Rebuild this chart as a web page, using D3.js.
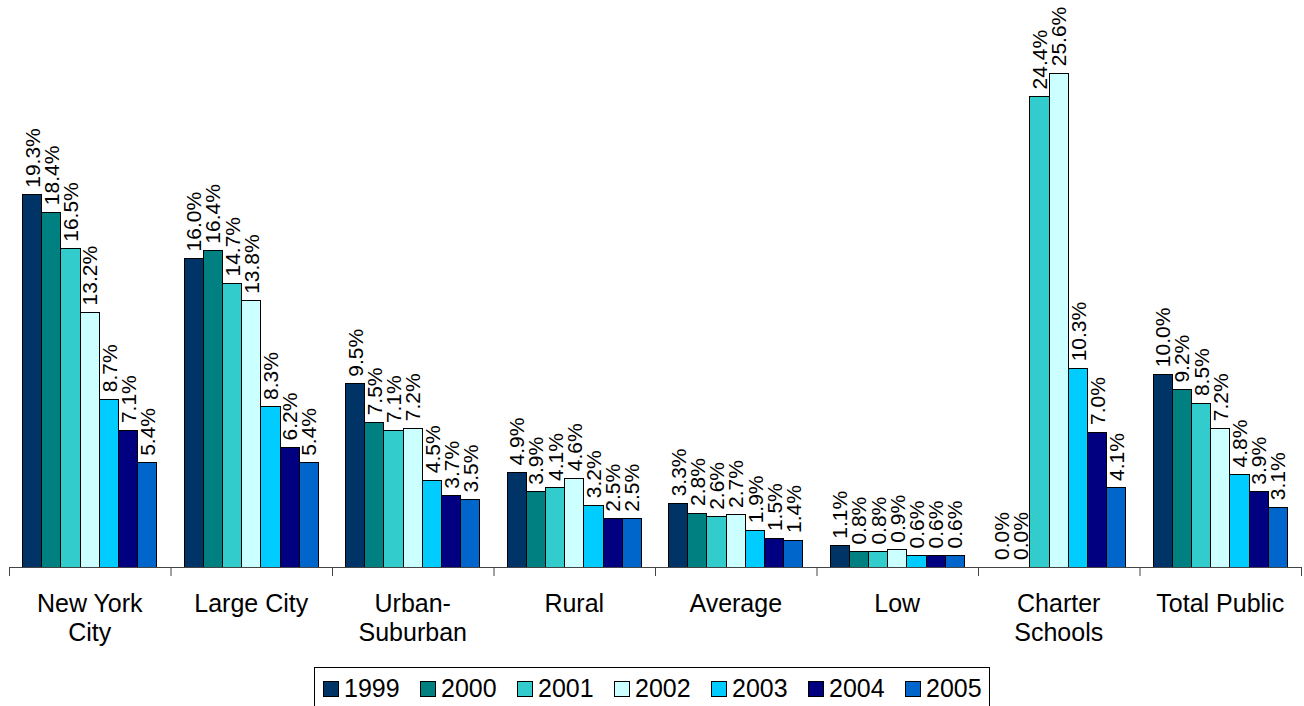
<!DOCTYPE html>
<html>
<head>
<meta charset="utf-8">
<script src="https://cdn.jsdelivr.net/npm/d3@7"></script>
<style>
	body { margin: 0; background: #fff; }
	svg { display: block; font-family: "Liberation Sans", Arial, sans-serif; }
</style>
</head>
<body>
<div id="chart"></div>
<script>
// categories (tick labels split over lines like the original)
const categories = ["New York City", "Large City", "Urban-Suburban", "Rural", "Average", "Low", "Charter Schools", "Total Public"];
const tickLines = [["New York", "City"], ["Large City"], ["Urban-", "Suburban"], ["Rural"], ["Average"], ["Low"], ["Charter", "Schools"], ["Total Public"]];

const years = ["1999", "2000", "2001", "2002", "2003", "2004", "2005"];
const yearColors = ["#003366", "#008080", "#33CCCC", "#CCFFFF", "#00CCFF", "#000080", "#0066CC"];

// percent per category, one array per year
const v1999 = [19.3, 16.0, 9.5, 4.9, 3.3, 1.1, 0.0, 10.0];
const v2000 = [18.4, 16.4, 7.5, 3.9, 2.8, 0.8, 0.0, 9.2];
const v2001 = [16.5, 14.7, 7.1, 4.1, 2.6, 0.8, 24.4, 8.5];
const v2002 = [13.2, 13.8, 7.2, 4.6, 2.7, 0.9, 25.6, 7.2];
const v2003 = [8.7, 8.3, 4.5, 3.2, 1.9, 0.6, 10.3, 4.8];
const v2004 = [7.1, 6.2, 3.7, 2.5, 1.5, 0.6, 7.0, 3.9];
const v2005 = [5.4, 5.4, 3.5, 2.5, 1.4, 0.6, 4.1, 3.1];
const series = [v1999, v2000, v2001, v2002, v2003, v2004, v2005];

const width = 1304, height = 706;
const plotLeft = 9, plotRight = 1301, baseY = 567;

const svg = d3.select("#chart").append("svg")
	.attr("width", width)
	.attr("height", height);

//Scales
const x0 = d3.scaleBand().domain(categories).range([plotLeft, plotRight]);
const pad = x0.bandwidth() * 0.084;
const x1 = d3.scaleBand().domain(years).range([pad, x0.bandwidth() - pad]);
const y = d3.scaleLinear().domain([0, 29.4]).range([baseY, 0]);

// flatten to one record per bar
const bars = [];
categories.forEach(function(c, i) {
	years.forEach(function(yr, j) {
		bars.push({cat: c, year: yr, value: series[j][i], color: yearColors[j]});
	});
});

//Bars
svg.append("g").selectAll("rect")
	.data(bars.filter(function(d) { return d.value > 0; }))
	.enter().append("rect")
	.attr("x", function(d) { return x0(d.cat) + x1(d.year); })
	.attr("y", function(d) { return y(d.value); })
	.attr("width", x1.bandwidth())
	.attr("height", function(d) { return baseY - y(d.value); })
	.attr("fill", function(d) { return d.color; })
	.attr("stroke", "#000")
	.attr("stroke-width", 1)
	.attr("shape-rendering", "crispEdges");

//Value labels, rotated
svg.append("g").selectAll("text")
	.data(bars)
	.enter().append("text")
	.attr("transform", function(d) {
		const cx = x0(d.cat) + x1(d.year) + x1.bandwidth() / 2;
		return "translate(" + cx + "," + (y(d.value) - 7) + ") rotate(-90)";
	})
	.attr("dy", "0.36em")
	.attr("font-size", "21px")
	.attr("fill", "#000")
	.text(function(d) { return d.value.toFixed(1) + "%"; });

//X axis with ticks on category boundaries
const xi = d3.scaleLinear().domain([0, categories.length]).range([plotLeft, plotRight]);
const axis = svg.append("g")
	.attr("transform", "translate(0," + baseY + ")")
	.call(d3.axisBottom(xi).tickValues(d3.range(categories.length + 1)).tickFormat("").tickSize(9).tickSizeOuter(0));
axis.select(".domain").attr("stroke", "#444");
axis.selectAll(".tick line").attr("stroke", "#444");

//Category labels
const catG = svg.append("g").selectAll("text")
	.data(categories)
	.enter().append("text")
	.attr("x", function(d) { return x0(d) + x0.bandwidth() / 2; })
	.attr("y", 612)
	.attr("text-anchor", "middle")
	.attr("font-size", "25px")
	.attr("fill", "#000");
catG.selectAll("tspan")
	.data(function(d, i) { return tickLines[i]; })
	.enter().append("tspan")
	.attr("x", function() { return d3.select(this.parentNode).attr("x"); })
	.attr("dy", function(d, i) { return i === 0 ? 0 : 29; })
	.text(function(d) { return d; });

//Legend
const legend = svg.append("g");
legend.append("rect")
	.attr("x", 314.5).attr("y", 667.5)
	.attr("width", 675).attr("height", 50)
	.attr("fill", "#fff")
	.attr("stroke", "#000");

const item = legend.selectAll(".item")
	.data(years)
	.enter().append("g")
	.attr("class", "item")
	.attr("transform", function(d, i) { return "translate(" + (323 + i * 97) + ",681)"; });
item.append("rect")
	.attr("width", 15).attr("height", 15)
	.attr("fill", function(d, i) { return yearColors[i]; })
	.attr("stroke", "#000")
	.attr("shape-rendering", "crispEdges");
item.append("text")
	.attr("x", 21).attr("y", 16)
	.attr("font-size", "25px")
	.attr("fill", "#000")
	.text(function(d) { return d; });
</script>
</body>
</html>
